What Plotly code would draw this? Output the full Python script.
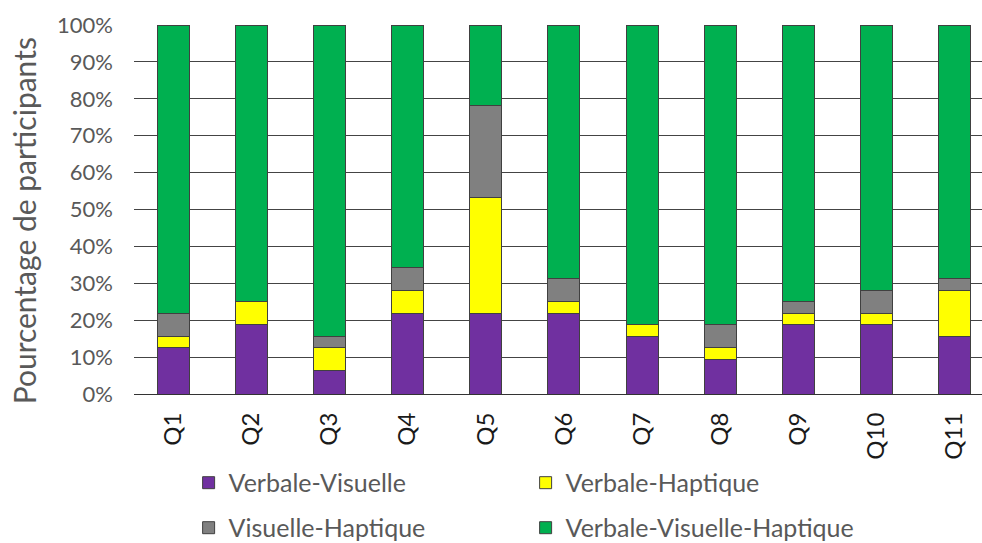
import plotly.graph_objects as go

questions = ["Q1", "Q2", "Q3", "Q4", "Q5", "Q6", "Q7", "Q8", "Q9", "Q10", "Q11"]

verbale_visuelle = [12.5, 18.75, 6.25, 21.875, 21.875, 21.875, 15.625, 9.375, 18.75, 18.75, 15.625]
verbale_haptique = [3.125, 6.25, 6.25, 6.25, 31.25, 3.125, 3.125, 3.125, 3.125, 3.125, 12.5]
visuelle_haptique = [6.25, 0, 3.125, 6.25, 25.0, 6.25, 0, 6.25, 3.125, 6.25, 3.125]
verbale_visuelle_haptique = [78.125, 75.0, 84.375, 65.625, 21.875, 68.75, 81.25, 81.25, 75.0, 71.875, 68.75]

# (name, values, fill colour, legend row)
series = [
    ("Verbale-Visuelle", verbale_visuelle, "#7030A0", "legend"),
    ("Verbale-Haptique", verbale_haptique, "#FFFF00", "legend"),
    ("Visuelle-Haptique", visuelle_haptique, "#808080", "legend2"),
    ("Verbale-Visuelle-Haptique", verbale_visuelle_haptique, "#00B050", "legend2"),
]

FONT = "Lato"
TEXT = "#595959"

fig = go.Figure()
for name, vals, color, leg in series:
    fig.add_trace(go.Bar(
        x=questions, y=vals, name=name, legend=leg,
        marker=dict(color=color, line=dict(color="#404040", width=1)),
    ))

legend_style = dict(
    orientation="h", x=0.0644, xanchor="left", yanchor="middle",
    entrywidth=292, entrywidthmode="pixels",
    font=dict(size=25, color=TEXT, family=FONT),
    traceorder="normal", bgcolor="rgba(0,0,0,0)",
)

fig.update_layout(
    barmode="stack",
    bargap=0.59,
    width=982, height=543,
    margin=dict(l=134, r=0, t=25, b=149, autoexpand=False),
    plot_bgcolor="white", paper_bgcolor="white",
    font=dict(family=FONT, color=TEXT),
    legend=dict(legend_style, y=-0.241),
    legend2=dict(legend_style, y=-0.363),
    xaxis=dict(
        range=[-0.5, 10.35], tickangle=-90,
        tickfont=dict(size=24, color="#1a1a1a", family=FONT),
        ticklabelstandoff=8,
        showgrid=False, showline=True, linecolor="#333", linewidth=1,
        ticks="", fixedrange=True, automargin=False,
    ),
    yaxis=dict(
        range=[0, 100], dtick=10, ticksuffix="%",
        tickfont=dict(size=22, color=TEXT, family=FONT),
        ticklabelstandoff=20,
        showgrid=True, gridcolor="#444", gridwidth=1,
        zeroline=False, showline=False, automargin=False,
    ),
    annotations=[dict(
        text="Pourcentage de participants", textangle=-90,
        xref="paper", yref="paper", x=-0.1297, y=0.468,
        xanchor="center", yanchor="middle", showarrow=False,
        font=dict(size=30, color=TEXT, family=FONT),
    )],
)

fig.write_html("out.html")
